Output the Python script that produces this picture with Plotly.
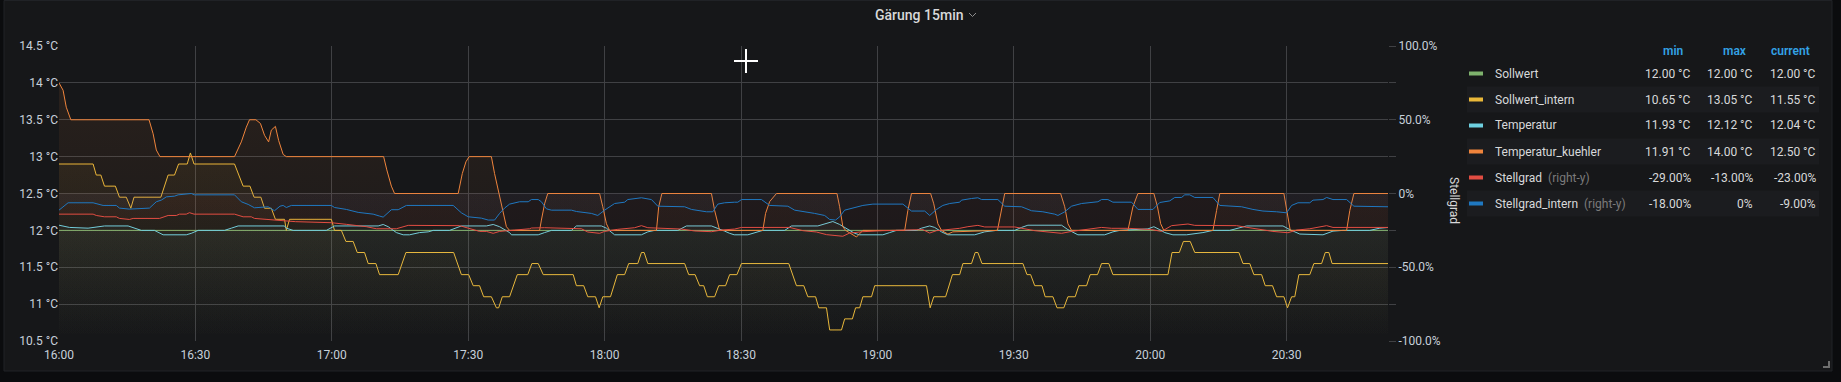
import pandas as pd
import plotly.graph_objects as go

# ---------------- data (minutes after 16:00, value) ----------------
BASE = "2021-03-20 16:00:00"
X_END_MIN = 292.3

X_TICK_MIN = [0, 30, 60, 90, 120, 150, 180, 210, 240, 270]
X_TICK_LABELS = ["16:00", "16:30", "17:00", "17:30", "18:00", "18:30", "19:00", "19:30", "20:00", "20:30"]

Y_TICKS = [10.5, 11, 11.5, 12, 12.5, 13, 13.5, 14, 14.5]
Y_LABELS = ["10.5 °C", "11 °C", "11.5 °C", "12 °C", "12.5 °C", "13 °C", "13.5 °C", "14 °C", "14.5 °C"]
Y2_TICKS = [-100, -50, 0, 50, 100]
Y2_LABELS = ["-100.0%", "-50.0%", "0%", "50.0%", "100.0%"]
Y2_MINOR = [-75, -25, 25, 75]

SOLLWERT = [(0, 12.0), (60, 12.0), (120, 12.0), (180, 12.0), (240, 12.0), (292.3, 12.0)]

SOLLWERT_INTERN = [
    (0, 12.9), (7.5, 12.9), (8.2, 12.75), (9.2, 12.75), (10.0, 12.6), (12.4, 12.6), (13.3, 12.45),
    (14.8, 12.45), (15.8, 12.3), (16.5, 12.45), (22.4, 12.45), (24.0, 12.75), (25.4, 12.75),
    (26.3, 12.9), (28.2, 12.9), (28.9, 13.05), (29.7, 12.9), (38.6, 12.9), (40.5, 12.6), (42.0, 12.6),
    (42.9, 12.45), (44.4, 12.45), (45.2, 12.3), (46.7, 12.3), (47.6, 12.15), (49.6, 12.15), (50.0, 12.0),
    (50.7, 12.15), (59.9, 12.15), (60.6, 12.0), (62.1, 12.0), (63.1, 11.85), (64.7, 11.85), (65.6, 11.7),
    (67.2, 11.7), (68.0, 11.55), (69.7, 11.55), (70.5, 11.4), (74.6, 11.4), (76.3, 11.7), (86.8, 11.7),
    (88.5, 11.4), (90.1, 11.4), (91.1, 11.25), (92.5, 11.25), (93.4, 11.1), (95.1, 11.1), (96.2, 10.95),
    (96.7, 10.95), (97.5, 11.1), (99.1, 11.1), (100.8, 11.4), (103.1, 11.4), (104.0, 11.55), (105.4, 11.55),
    (106.5, 11.4), (113.1, 11.4), (113.8, 11.25), (115.4, 11.25), (116.3, 11.1), (118.0, 11.1),
    (118.8, 10.95), (119.6, 11.1), (121.3, 11.1), (122.8, 11.4), (124.4, 11.4), (125.3, 11.55),
    (127.3, 11.55), (128.1, 11.7), (128.7, 11.7), (129.5, 11.55), (137.6, 11.55), (138.5, 11.4),
    (139.9, 11.4), (140.9, 11.25), (141.8, 11.25), (142.6, 11.1), (144.2, 11.1), (145.1, 11.25),
    (146.6, 11.25), (147.5, 11.4), (149.1, 11.4), (150.1, 11.55), (160.5, 11.55), (162.2, 11.25),
    (163.8, 11.25), (164.7, 11.1), (166.4, 11.1), (167.1, 10.95), (168.8, 10.95), (169.5, 10.65),
    (172.1, 10.65), (172.8, 10.8), (174.5, 10.8), (175.2, 10.95), (176.1, 10.95), (176.8, 11.1),
    (178.7, 11.1), (179.4, 11.25), (190.8, 11.25), (191.6, 10.95), (192.4, 11.1), (195.0, 11.1),
    (196.5, 11.4), (198.1, 11.4), (198.8, 11.55), (200.7, 11.55), (201.5, 11.7), (202.1, 11.7),
    (203.0, 11.55), (212.0, 11.55), (212.9, 11.4), (213.7, 11.4), (214.6, 11.25), (216.2, 11.25),
    (216.9, 11.1), (218.6, 11.1), (219.5, 10.95), (221.0, 10.95), (221.9, 11.1), (223.5, 11.1),
    (224.3, 11.25), (226.0, 11.25), (226.8, 11.4), (228.4, 11.4), (229.3, 11.55), (230.9, 11.55),
    (231.8, 11.4), (243.9, 11.4), (244.8, 11.7), (246.4, 11.7), (247.3, 11.85), (248.8, 11.85),
    (249.8, 11.7), (259.5, 11.7), (260.4, 11.55), (261.9, 11.55), (262.8, 11.4), (264.5, 11.4),
    (265.3, 11.25), (266.9, 11.25), (267.8, 11.1), (269.4, 11.1), (270.2, 10.95), (271.1, 11.1),
    (271.8, 11.1), (272.7, 11.4), (275.1, 11.4), (276.0, 11.55), (277.7, 11.55), (278.5, 11.7),
    (279.3, 11.7), (280.0, 11.55), (292.3, 11.55),
]

TEMPERATUR = [
    (0, 12.07), (2.3, 12.04), (6.4, 12.03), (8.6, 12.05), (10.0, 12.06), (15.2, 12.06), (16.6, 12.03),
    (18.1, 12.0), (21.0, 12.0), (22.9, 11.94), (28.0, 11.94), (29.1, 11.96), (30.6, 12.0), (36.4, 12.0),
    (37.9, 12.03), (39.4, 12.06), (49.6, 12.06), (50.0, 12.03), (51.5, 12.0), (58.8, 12.0), (60.6, 12.06),
    (70.2, 12.06), (71.3, 12.08), (72.4, 12.05), (74.2, 11.97), (75.7, 11.94), (77.1, 11.94), (79.3, 11.97),
    (81.2, 11.98), (82.3, 12.0), (85.9, 12.0), (87.4, 12.04), (88.5, 12.06), (94.0, 12.06), (95.5, 12.08),
    (96.9, 12.05), (99.1, 11.97), (99.5, 11.94), (105.4, 11.94), (106.8, 11.97), (108.3, 12.0),
    (112.7, 12.0), (113.8, 12.06), (119.3, 12.06), (120.4, 12.03), (122.2, 11.94), (128.1, 11.94),
    (129.5, 11.98), (131.0, 12.0), (136.1, 12.0), (138.0, 12.06), (143.5, 12.06), (144.9, 12.03),
    (146.4, 11.99), (147.5, 11.96), (148.5, 11.94), (151.5, 11.94), (153.4, 11.98), (154.8, 12.0),
    (159.6, 12.0), (161.1, 12.06), (166.9, 12.06), (168.8, 12.09), (170.2, 12.12), (171.7, 12.08),
    (173.2, 12.03), (175.0, 11.96), (176.1, 11.94), (181.2, 11.94), (182.7, 11.97), (184.2, 12.0),
    (188.6, 12.0), (189.7, 12.03), (191.5, 12.06), (192.6, 12.04), (194.1, 11.98), (195.5, 11.94),
    (201.4, 11.94), (203.6, 11.98), (206.2, 12.0), (210.2, 12.0), (211.7, 12.04), (213.1, 12.07),
    (220.5, 12.07), (221.9, 12.01), (224.1, 11.94), (230.0, 11.94), (231.8, 11.98), (233.3, 12.0),
    (239.5, 12.02), (240.8, 12.05), (242.1, 12.01), (243.2, 11.97), (245.0, 11.94), (248.0, 11.94),
    (251.6, 11.97), (253.8, 12.0), (257.5, 12.0), (259.7, 12.04), (261.2, 12.06), (269.2, 12.06),
    (270.7, 12.01), (272.9, 11.95), (278.0, 11.94), (280.2, 11.99), (282.4, 12.0), (288.3, 12.0),
    (290.5, 12.03), (292.3, 12.04),
]

TEMPERATUR_KUEHLER = [
    (0, 14.0), (0.9, 13.9), (1.6, 13.67), (2.6, 13.5), (19.8, 13.5), (20.7, 13.31), (21.4, 13.09),
    (22.2, 13.0), (38.6, 13.0), (40.1, 13.2), (41.2, 13.4), (41.9, 13.5), (43.3, 13.5), (44.3, 13.45),
    (45.2, 13.29), (46.1, 13.2), (46.7, 13.36), (47.6, 13.41), (48.3, 13.22), (49.3, 13.03), (50.0, 13.0),
    (71.4, 13.0), (72.1, 12.82), (73.1, 12.6), (73.8, 12.5), (87.8, 12.5), (88.7, 12.77), (89.5, 12.93),
    (90.2, 13.0), (95.1, 13.0), (95.8, 12.77), (96.8, 12.5), (97.7, 12.23), (98.4, 12.05), (99.1, 12.0),
    (105.7, 12.0), (106.1, 12.14), (106.8, 12.36), (107.5, 12.5), (118.9, 12.5), (119.6, 12.32),
    (120.4, 12.09), (121.1, 12.0), (131.4, 12.0), (131.9, 12.32), (132.6, 12.5), (143.5, 12.5),
    (144.2, 12.27), (145.3, 12.0), (154.8, 12.0), (155.4, 12.23), (156.3, 12.39), (157.8, 12.5),
    (171.1, 12.5), (171.7, 12.32), (172.4, 12.05), (173.0, 12.0), (175.4, 11.91), (176.8, 12.0),
    (186.0, 12.0), (186.7, 12.27), (187.5, 12.5), (191.7, 12.5), (192.4, 12.36), (193.3, 12.09),
    (194.1, 12.0), (195.5, 11.95), (196.6, 11.98), (206.4, 12.0), (207.3, 12.27), (208.0, 12.5),
    (220.3, 12.5), (221.2, 12.32), (221.9, 12.09), (222.7, 12.0), (235.1, 12.0), (236.2, 12.32),
    (237.3, 12.5), (240.8, 12.5), (241.6, 12.32), (242.3, 12.09), (243.0, 12.0), (253.8, 12.0),
    (254.6, 12.27), (255.3, 12.5), (269.4, 12.5), (270.2, 12.23), (270.8, 12.0), (283.2, 12.0),
    (283.9, 12.27), (284.8, 12.5), (292.3, 12.5),
]

STELLGRAD = [
    (0, -14), (7.5, -14), (8.2, -14.9), (10.0, -15.8), (12.6, -15.8), (13.3, -16.9), (15.5, -17.6),
    (16.3, -16.9), (22.1, -16.9), (24.0, -14.9), (25.8, -14.9), (26.5, -14), (28.0, -14), (28.7, -13),
    (29.7, -14), (38.6, -14), (40.5, -15.8), (42.3, -15.8), (43.0, -16.9), (44.9, -17.4), (46.7, -18),
    (49.6, -18.7), (52.0, -19.1), (59.9, -19.8), (61.0, -20.3), (63.2, -20.9), (67.6, -22.5),
    (69.8, -23.9), (74.2, -23.9), (75.8, -22.3), (76.8, -21.6), (88.1, -21.8), (90.0, -23.6),
    (92.5, -25.7), (94.0, -25.7), (95.5, -27), (96.9, -25.7), (99.1, -25.4), (100.2, -24.8),
    (103.5, -23.9), (103.9, -23.4), (106.8, -23.2), (114.9, -23.9), (116.3, -26.1), (118.9, -27),
    (120.0, -25.7), (122.9, -24.3), (126.6, -23.2), (128.1, -21.8), (129.5, -23.2), (136.9, -24.1),
    (139.8, -25.4), (143.5, -25.9), (145.7, -24.8), (148.6, -24.1), (150.1, -23), (160.7, -23),
    (163.6, -25.2), (166.6, -26.1), (168.8, -27.9), (172.4, -29), (173.9, -26.8), (176.8, -25.9),
    (181.2, -25.2), (185.6, -24.8), (190.0, -24.5), (191.5, -26.8), (193.0, -25.2), (194.4, -24.8),
    (198.1, -23.6), (199.9, -22.5), (202.1, -21.6), (203.6, -22.7), (210.2, -22.7), (214.6, -25.2),
    (218.3, -26.6), (220.5, -27), (222.7, -25.7), (226.3, -24.1), (229.3, -23), (231.5, -23.6),
    (235.1, -23.6), (240.3, -24.5), (242.5, -25.7), (244.7, -21.8), (246.5, -21.2), (248.3, -20.7),
    (249.8, -21.6), (259.0, -21.8), (262.6, -23.6), (267.0, -25.7), (270.3, -26.6), (272.2, -24.8),
    (275.1, -23.9), (276.6, -23.0), (278.8, -21.8), (280.2, -23), (292.3, -23),
]

STELLGRAD_INTERN = [
    (0, -11.3), (0.9, -9), (2.0, -6.3), (7.5, -6.3), (8.2, -7), (9.7, -8.1), (12.6, -8.1), (13.3, -9.9),
    (15.5, -10.6), (19.9, -9.9), (21.4, -5.6), (22.5, -4.5), (23.6, -2.3), (25.4, -1.8), (26.2, -0.9),
    (28.4, -0.5), (29.1, 0), (29.8, -0.9), (38.6, -0.9), (40.1, -5.6), (41.6, -7.4), (43.0, -9.7),
    (44.9, -9.5), (46.0, -9.0), (47.4, -11.7), (48.6, -8.6), (49.3, -8.1), (50.0, -9.5), (51.1, -8.1),
    (59.9, -8.1), (60.6, -9.5), (63.2, -10.8), (65.8, -12.8), (69.1, -14.0), (70.5, -15.3), (71.3, -16),
    (73.1, -11.0), (74.6, -11.0), (76.4, -8.1), (86.7, -8.1), (88.5, -13.1), (90.0, -15.8), (92.9, -16.7),
    (94.4, -18), (95.8, -18), (96.9, -13.5), (98.0, -9.9), (99.1, -7.2), (101.3, -5.6), (103.2, -5.6),
    (103.9, -4.1), (105.4, -4.1), (106.1, -5.6), (107.2, -10.4), (108.3, -11.3), (112.7, -11.3),
    (113.8, -12.2), (117.1, -13.5), (118.5, -14.9), (120.0, -11.3), (122.2, -6.8), (124.4, -5.9),
    (125.1, -4.1), (128.1, -2.9), (130.3, -4.1), (131.7, -8.6), (137.6, -9.0), (139.1, -10.8),
    (142.4, -12.4), (143.8, -12.4), (144.9, -7.2), (146.4, -6.3), (148.6, -5.9), (149.3, -5.9),
    (150.1, -4.1), (154.5, -4.1), (156.3, -8.1), (160.3, -8.6), (161.8, -11.3), (164.4, -12.4),
    (166.2, -13.5), (168.4, -14.9), (169.5, -17.6), (170.8, -18), (171.7, -15.8), (172.8, -11.3),
    (175.4, -9.0), (176.8, -8.1), (179.0, -7.2), (185.6, -7.2), (187.5, -11.9), (190.4, -11.9),
    (191.5, -14.9), (193.0, -10.8), (194.4, -8.1), (195.9, -6.8), (198.1, -5.9), (198.5, -4.5),
    (200.7, -3.4), (202.1, -2.9), (202.9, -4.1), (206.5, -4.1), (208.0, -8.6), (211.7, -9.0),
    (213.9, -11.7), (216.4, -12.4), (219.0, -14.0), (219.7, -14.9), (221.2, -12.4), (222.7, -8.6),
    (224.9, -6.8), (226.3, -6.3), (228.5, -5.6), (229.3, -4.1), (230.7, -4.1), (231.8, -5.9),
    (235.9, -5.9), (237.3, -10.8), (240.6, -10.8), (242.1, -6.1), (244.3, -5.0), (245.4, -2.7),
    (246.9, -2.7), (247.6, -0.9), (248.7, -0.9), (249.8, -2.7), (253.8, -2.7), (255.3, -8.1),
    (258.9, -8.6), (260.1, -9.0), (262.6, -10.8), (264.8, -11.9), (267.8, -12.4), (270.0, -13.1),
    (271.1, -8.1), (272.5, -6.3), (275.1, -6.3), (275.8, -4.5), (278.0, -4.1), (278.8, -2.7),
    (280.2, -4.1), (283.2, -4.1), (284.8, -8.6), (292.3, -9.0),
]

LEGEND_NAMES = ["Sollwert", "Sollwert_intern", "Temperatur", "Temperatur_kuehler", "Stellgrad", "Stellgrad_intern"]
LEGEND_RIGHT_Y = [False, False, False, False, True, True]
LEGEND_MIN = ["12.00 °C", "10.65 °C", "11.93 °C", "11.91 °C", "-29.00%", "-18.00%"]
LEGEND_MAX = ["12.00 °C", "13.05 °C", "12.12 °C", "14.00 °C", "-13.00%", "0%"]
LEGEND_CURRENT = ["12.00 °C", "11.55 °C", "12.04 °C", "12.50 °C", "-23.00%", "-9.00%"]

COLORS = ["#7eb26d", "#eab839", "#6ed0e0", "#ef843c", "#e24d42", "#1f78c1"]
SERIES = [SOLLWERT, SOLLWERT_INTERN, TEMPERATUR, TEMPERATUR_KUEHLER, STELLGRAD, STELLGRAD_INTERN]
AXES = ["y", "y", "y", "y", "y2", "y2"]

# ---------------- styling ----------------
OUTER_BG = "#0b0c0e"
PANEL_BG = "#161719"
GRID = "#404144"
TICK_COLOR = "#c7d0d9"
TEXT = "#d8d9da"
FONT = "Roboto, 'Open Sans', sans-serif"

W, H = 1841, 382
ML, MR, MT, MB = 59, 453, 46, 41
PW, PH = W - ML - MR, H - MT - MB


def px(x):
    return (x - ML) / PW


def py(y):
    return (H - MB - y) / PH


def rgba(hexc, a):
    h = hexc.lstrip("#")
    r, g, b = int(h[0:2], 16), int(h[2:4], 16), int(h[4:6], 16)
    return f"rgba({r},{g},{b},{a})"


base = pd.Timestamp(BASE)


def to_time(mins):
    return base + pd.to_timedelta(mins, unit="m")


fig = go.Figure()
for name, pts, col, ax in zip(LEGEND_NAMES, SERIES, COLORS, AXES):
    t = [p[0] for p in pts]
    v = [p[1] for p in pts]
    if ax == "y":
        fg = dict(type="vertical", start=10.5, stop=14.5,
                  colorscale=[[0, rgba(col, 0.0)], [1, rgba(col, 0.10)]])
    else:
        fg = dict(type="vertical", start=-100, stop=100,
                  colorscale=[[0, rgba(col, 0.0)], [1, rgba(col, 0.10)]])
    fig.add_trace(go.Scatter(
        x=to_time(t), y=v, name=name, mode="lines",
        line=dict(color=col, width=1), fill="tozeroy", fillgradient=fg,
        yaxis=ax, showlegend=False, hoverinfo="skip",
    ))

shapes = []
# panel background
shapes.append(dict(type="rect", xref="paper", yref="paper", x0=px(4), x1=px(1832), y0=py(371), y1=py(0.5),
                   fillcolor=PANEL_BG, line=dict(color="#202226", width=1), layer="below"))
# legend rows
ROW_Y = [73.5 + 26 * i for i in range(6)]
for i, ry in enumerate(ROW_Y):
    if i % 2 == 1:
        shapes.append(dict(type="rect", xref="paper", yref="paper", x0=px(1467), x1=px(1819),
                           y0=py(ry + 13), y1=py(ry - 13), fillcolor="#1b1c1f", line=dict(width=0), layer="below"))
    shapes.append(dict(type="rect", xref="paper", yref="paper", x0=px(1469), x1=px(1483),
                       y0=py(ry + 2), y1=py(ry - 2), fillcolor=COLORS[i], line=dict(width=0)))
# title chevron
shapes.append(dict(type="path", xref="paper", yref="paper",
                   path=f"M {px(969)} {py(13)} L {px(972.5)} {py(16.5)} L {px(976)} {py(13)}",
                   line=dict(color="#8e8e8e", width=1)))
# mouse cross-hair cursor
shapes.append(dict(type="line", xref="paper", yref="paper", x0=px(734), x1=px(758), y0=py(61), y1=py(61),
                   line=dict(color="#ffffff", width=2)))
shapes.append(dict(type="line", xref="paper", yref="paper", x0=px(746), x1=px(746), y0=py(49), y1=py(73),
                   line=dict(color="#ffffff", width=2)))
# resize handle
shapes.append(dict(type="path", xref="paper", yref="paper",
                   path=f"M {px(1823)} {py(367)} L {px(1829)} {py(367)} L {px(1829)} {py(361)}",
                   line=dict(color="#6e6e6e", width=2)))

ann = []
ann.append(dict(text="Gärung 15min", x=px(919), y=py(14.5), xref="paper", yref="paper", showarrow=False,
                xanchor="center", yanchor="middle", font=dict(family=FONT, size=14, color=TEXT, weight=500)))
ann.append(dict(text="Stellgrad", x=px(1454), y=py(200), xref="paper", yref="paper", showarrow=False,
                textangle=90, xanchor="center", yanchor="middle", font=dict(family=FONT, size=12, color=TEXT)))
for label, cx in zip(["min", "max", "current"], [1674, 1735, 1790]):
    ann.append(dict(text=label, x=px(cx), y=py(51), xref="paper", yref="paper", showarrow=False,
                    xanchor="center", yanchor="middle", font=dict(family=FONT, size=12, color="#33a2e5", weight=600)))
for i, ry in enumerate(ROW_Y):
    nm = LEGEND_NAMES[i]
    if LEGEND_RIGHT_Y[i]:
        nm = nm + "  <span style='color:#7b7b7b'>(right-y)</span>"
    ann.append(dict(text=nm, x=px(1493), y=py(ry), xref="paper", yref="paper", showarrow=False,
                    xanchor="left", yanchor="middle", font=dict(family=FONT, size=12, color=TEXT)))
    for vals, rx in zip([LEGEND_MIN, LEGEND_MAX, LEGEND_CURRENT], [1693, 1755, 1818]):
        ann.append(dict(text=vals[i], x=px(rx), y=py(ry), xref="paper", yref="paper", showarrow=False,
                        xanchor="right", yanchor="middle", font=dict(family=FONT, size=12, color=TEXT)))

fig.update_layout(
    width=W, height=H, margin=dict(l=ML, r=MR, t=MT, b=MB, pad=0),
    paper_bgcolor=OUTER_BG, plot_bgcolor="rgba(0,0,0,0)",
    hovermode=False, showlegend=False,
    font=dict(family=FONT, size=12, color=TICK_COLOR),
    xaxis=dict(type="date", range=[to_time(0), to_time(X_END_MIN)],
               tickmode="array", tickvals=list(to_time(X_TICK_MIN)), ticktext=X_TICK_LABELS,
               showgrid=True, gridcolor=GRID, gridwidth=1, zeroline=False, showline=False, ticks="",
               ticklabelstandoff=5, tickfont=dict(size=12, color=TICK_COLOR)),
    yaxis=dict(range=[10.5, 14.5], tickmode="array", tickvals=Y_TICKS, ticktext=Y_LABELS,
               showgrid=True, gridcolor=GRID, gridwidth=1, zeroline=False, showline=False, ticks="",
               tickfont=dict(size=12, color=TICK_COLOR)),
    yaxis2=dict(overlaying="y", side="right", range=[-100, 100], tickmode="array",
                tickvals=Y2_TICKS, ticktext=Y2_LABELS, showgrid=False, zeroline=False, showline=False,
                ticks="outside", ticklen=7, tickcolor=GRID, tickwidth=1,
                minor=dict(tickmode="array", tickvals=Y2_MINOR, ticks="outside", ticklen=7,
                           tickcolor=GRID, tickwidth=1, showgrid=False),
                tickfont=dict(size=12, color=TICK_COLOR)),
    shapes=shapes, annotations=ann,
)

fig.write_html("out.html", config={"displayModeBar": False},
               post_script="document.body.style.margin='0';document.body.style.overflow='hidden';")
